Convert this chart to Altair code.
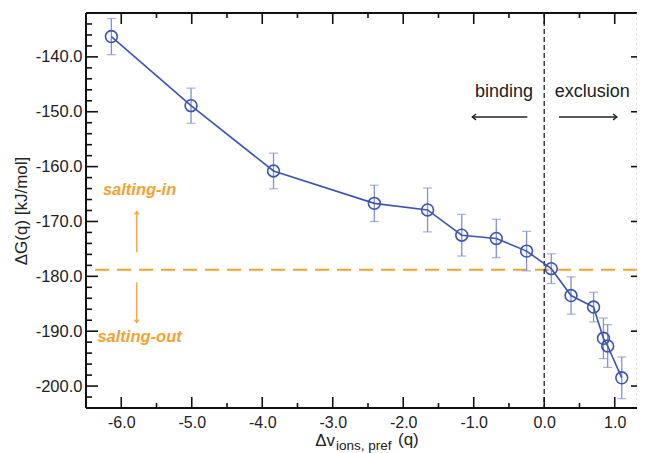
import altair as alt
import pandas as pd

# ---- data ----
x_vals = [-6.14, -5.01, -3.84, -2.41, -1.655, -1.17, -0.68, -0.25, 0.10, 0.38, 0.70, 0.84, 0.90, 1.10]
y_vals = [-136.3, -148.9, -160.8, -166.7, -167.9, -172.5, -173.1, -175.4, -178.6, -183.5, -185.6, -191.3, -192.7, -198.5]
err_vals = [3.3, 3.2, 3.25, 3.3, 4.0, 3.8, 3.5, 3.6, 2.7, 3.4, 2.7, 3.7, 3.9, 3.8]
ref_level = [-178.8]
x_div = [0.0]

x_major = [-6.0, -5.0, -4.0, -3.0, -2.0, -1.0, 0.0, 1.0]
x_minor = [-6.5, -5.5, -4.5, -3.5, -2.5, -1.5, -0.5, 0.5]
y_major = [-200, -190, -180, -170, -160, -150, -140]
y_minor = [-204, -202, -198, -196, -194, -192, -188, -186, -184, -182, -178, -176, -174, -172,
           -168, -166, -164, -162, -158, -156, -154, -152, -148, -146, -144, -142, -138, -136, -134, -132]

X_DOMAIN = [-6.5, 1.316]
Y_DOMAIN = [-204, -132]
W, H = 551, 395
FONT = "Liberation Sans"
BLUE = "#3a54b8"
EBLUE = "#8290d6"
ORANGE = "#f7a030"
HYPHEN = "replace(datum.label, '\u2212', '-')"

df = pd.DataFrame({"x": x_vals, "y": y_vals, "e": err_vals})
df["lo"] = df["y"] - df["e"]
df["hi"] = df["y"] + df["e"]
one = pd.DataFrame({"k": [0]})

xs = alt.Scale(domain=X_DOMAIN, nice=False, zero=False)
ys = alt.Scale(domain=Y_DOMAIN, nice=False, zero=False)

base = alt.Chart(df)

X = alt.X("x:Q", scale=xs, axis=alt.Axis(values=x_major, format=".1f", labelExpr=HYPHEN, ticks=False,
                                         tickSize=0, domain=False, grid=False, labelPadding=6,
                                         labelFontSize=16, labelFont=FONT, labelColor="#222", title=None))
Y = alt.Y("y:Q", scale=ys, axis=alt.Axis(values=y_major, format=".1f", labelExpr=HYPHEN, ticks=False,
                                         tickSize=0, domain=False, grid=False, labelPadding=4,
                                         labelFontSize=16.5, labelFont=FONT, labelColor="#222",
                                         title="ΔG(q) [kJ/mol]", titleFont=FONT, titleFontSize=17,
                                         titleFontWeight="normal", titleColor="#222", titlePadding=5))

errbars = base.mark_rule(color=EBLUE, strokeWidth=1.3).encode(
    x=alt.X("x:Q", scale=xs), y=alt.Y("lo:Q", scale=ys), y2="hi:Q")
caps_lo = base.mark_tick(color=EBLUE, orient="horizontal", size=9, thickness=1.2).encode(
    x=alt.X("x:Q", scale=xs), y=alt.Y("lo:Q", scale=ys))
caps_hi = base.mark_tick(color=EBLUE, orient="horizontal", size=9, thickness=1.2).encode(
    x=alt.X("x:Q", scale=xs), y=alt.Y("hi:Q", scale=ys))

line = base.mark_line(color=BLUE, strokeWidth=1.6).encode(x=X, y=Y)
pts = base.mark_point(color=BLUE, filled=False, size=140, strokeWidth=1.6, opacity=1).encode(
    x=alt.X("x:Q", scale=xs), y=alt.Y("y:Q", scale=ys))

hline = alt.Chart(pd.DataFrame({"y": ref_level})).mark_rule(
    color=ORANGE, strokeWidth=2, strokeDash=[14, 8]).encode(y=alt.Y("y:Q", scale=ys))
vline = alt.Chart(pd.DataFrame({"x": x_div})).mark_rule(
    color="#333", strokeWidth=1.4, strokeDash=[5, 3]).encode(x=alt.X("x:Q", scale=xs))

# ---- ticks (inward) ----
def ticks_y(vals, length, side):
    d = pd.DataFrame({"v": vals})
    if side == "left":
        xa, xb = 0, length
    else:
        xa, xb = W, W - length
    return alt.Chart(d).mark_rule(color="#111", strokeWidth=1.6).encode(
        y=alt.Y("v:Q", scale=ys), x=alt.value(xa), x2=alt.value(xb))

def ticks_x(vals, length, side):
    d = pd.DataFrame({"v": vals})
    if side == "bottom":
        ya, yb = H, H - length
    else:
        ya, yb = 0, length
    return alt.Chart(d).mark_rule(color="#111", strokeWidth=1.6).encode(
        x=alt.X("v:Q", scale=xs), y=alt.value(ya), y2=alt.value(yb))

tick_layers = [
    ticks_y(y_major, 12, "left"), ticks_y(y_minor, 6, "left"),
    ticks_y(y_major, 6, "right"),
    ticks_x(x_major, 11, "bottom"), ticks_x(x_minor, 5, "bottom"),
    ticks_x(x_major, 11, "top"), ticks_x(x_minor, 5, "top"),
]

# ---- frame ----
frame_l = alt.Chart(one).mark_rule(color="#111", strokeWidth=2).encode(x=alt.value(0), y=alt.value(0), y2=alt.value(H))
frame_b = alt.Chart(one).mark_rule(color="#111", strokeWidth=2).encode(x=alt.value(0), x2=alt.value(W), y=alt.value(H))
frame_t = alt.Chart(one).mark_rule(color="#111", strokeWidth=2).encode(x=alt.value(0), x2=alt.value(W), y=alt.value(0))
frame_r = alt.Chart(one).mark_rule(color="#bbb", strokeWidth=1, strokeDash=[2, 3]).encode(x=alt.value(W), y=alt.value(0), y2=alt.value(H))

# ---- annotations ----
ann_text = pd.DataFrame({
    "x": [-0.57, 0.68],
    "y": [-146.4, -146.4],
    "t": ["binding", "exclusion"],
})
ann = alt.Chart(ann_text).mark_text(font=FONT, fontSize=18, color="#222").encode(
    x=alt.X("x:Q", scale=xs), y=alt.Y("y:Q", scale=ys), text="t:N")

arrow_lines = pd.DataFrame({"x": [-0.24, 0.21], "x2": [-1.02, 1.03], "y": [-150.95, -150.95]})
arr = alt.Chart(arrow_lines).mark_rule(color="#222", strokeWidth=1.4).encode(
    x=alt.X("x:Q", scale=xs), x2="x2:Q", y=alt.Y("y:Q", scale=ys))
arrow_heads = pd.DataFrame({"x": [-1.02, 1.03], "y": [-150.95, -150.95], "a": [270, 90]})
heads = alt.Chart(arrow_heads).mark_point(shape="M -0.7 0.9 L 0 0 L 0.7 0.9", filled=False,
                                          color="#222", strokeWidth=1.4, size=70, opacity=1).encode(
    x=alt.X("x:Q", scale=xs), y=alt.Y("y:Q", scale=ys), angle=alt.Angle("a:Q", scale=None))

salt_text = pd.DataFrame({"x": [-5.74, -5.74], "y": [-164.2, -191.0], "t": ["salting-in", "salting-out"]})
salt = alt.Chart(salt_text).mark_text(font=FONT, fontSize=16.5, fontStyle="italic", fontWeight="bold",
                                      color=ORANGE).encode(
    x=alt.X("x:Q", scale=xs), y=alt.Y("y:Q", scale=ys), text="t:N")

salt_arrows = pd.DataFrame({"x": [-5.78, -5.78], "y": [-175.6, -181.1], "y2": [-168.2, -188.4]})
sarr = alt.Chart(salt_arrows).mark_rule(color=ORANGE, strokeWidth=1.3).encode(
    x=alt.X("x:Q", scale=xs), y=alt.Y("y:Q", scale=ys), y2="y2:Q")
salt_heads = pd.DataFrame({"x": [-5.78, -5.78], "y": [-168.2, -188.4], "a": [0, 180]})
sheads = alt.Chart(salt_heads).mark_point(shape="M -0.7 0.9 L 0 0 L 0.7 0.9", filled=False,
                                          color=ORANGE, strokeWidth=1.3, size=40, opacity=1).encode(
    x=alt.X("x:Q", scale=xs), y=alt.Y("y:Q", scale=ys), angle=alt.Angle("a:Q", scale=None))

# ---- x axis title with subscript ----
xt_main = alt.Chart(one).mark_text(font=FONT, fontSize=17, color="#222", align="right", baseline="alphabetic").encode(
    x=alt.value(249), y=alt.value(H + 38), text=alt.value("Δv"))
xt_sub = alt.Chart(one).mark_text(font=FONT, fontSize=13.5, color="#222", align="left", baseline="alphabetic").encode(
    x=alt.value(250), y=alt.value(H + 42), text=alt.value("ions, pref"))
xt_q = alt.Chart(one).mark_text(font=FONT, fontSize=17, color="#222", align="left", baseline="alphabetic").encode(
    x=alt.value(312), y=alt.value(H + 37), text=alt.value("(q)"))

chart = alt.layer(
    hline, vline, errbars, caps_lo, caps_hi, line, pts,
    *tick_layers, frame_l, frame_b, frame_t, frame_r,
    ann, arr, heads, salt, sarr, sheads, xt_main, xt_sub, xt_q,
).properties(
    width=W, height=H,
    autosize=alt.AutoSizeParams(type="none"),
    padding={"left": 78, "top": 5, "right": 0, "bottom": 45},
).configure_view(stroke=None).configure(background="white")

chart.save("out.html", embed_options={"renderer": "svg", "actions": False})
